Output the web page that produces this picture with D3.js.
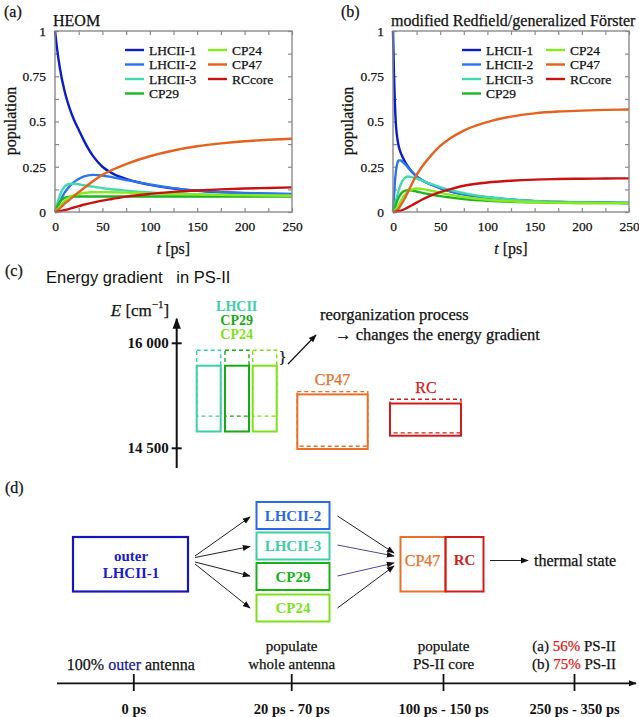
<!DOCTYPE html>
<html><head><meta charset="utf-8">
<script src="https://cdn.jsdelivr.net/npm/d3@7"></script>
<style>body{margin:0;background:#fff}svg{display:block}text{white-space:pre}</style>
</head><body>
<svg id="fig" width="639" height="717"></svg>
<script>
// ---------------- DATA ----------------
const seriesNames = ["LHCII-1","LHCII-2","LHCII-3","CP29","CP24","CP47","RCcore"];
const timeA = [0,2,5,10,15,20,25,30,40,50,60,75,100,125,150,175,200,225,250];
const heomLHCII1 = [1,0.91,0.80,0.67,0.58,0.51,0.455,0.40,0.31,0.25,0.215,0.183,0.15,0.13,0.117,0.109,0.104,0.100,0.098];
const heomLHCII2 = [0,0.02,0.055,0.105,0.14,0.165,0.182,0.195,0.205,0.202,0.193,0.177,0.152,0.132,0.118,0.110,0.105,0.102,0.100];
const heomLHCII3 = [0,0.04,0.09,0.14,0.155,0.156,0.153,0.148,0.14,0.132,0.126,0.118,0.108,0.102,0.097,0.094,0.092,0.091,0.09];
const heomCP29   = [0,0.025,0.055,0.078,0.084,0.086,0.086,0.086,0.086,0.086,0.086,0.086,0.086,0.086,0.086,0.086,0.086,0.086,0.086];
const heomCP24   = [0,0.012,0.03,0.06,0.08,0.093,0.1,0.105,0.109,0.11,0.109,0.107,0.103,0.1,0.097,0.095,0.093,0.091,0.09];
const heomCP47   = [0,0.008,0.02,0.045,0.066,0.088,0.11,0.13,0.17,0.205,0.232,0.265,0.308,0.34,0.363,0.379,0.391,0.399,0.405];
const heomRC     = [0,0.001,0.004,0.01,0.017,0.025,0.032,0.04,0.052,0.063,0.072,0.085,0.1,0.111,0.119,0.125,0.13,0.133,0.136];

const timeB = [0,1,2,3,4,6,8,10,13,16,20,25,30,40,50,60,75,100,125,150,175,200,225,250];
const mrfLHCII1 = [1,0.77,0.6,0.49,0.43,0.365,0.33,0.305,0.275,0.25,0.222,0.197,0.178,0.152,0.132,0.115,0.097,0.08,0.068,0.06,0.055,0.052,0.051,0.05];
const mrfLHCII2 = [0,0.08,0.16,0.22,0.255,0.285,0.285,0.278,0.263,0.245,0.222,0.197,0.178,0.152,0.132,0.115,0.097,0.08,0.068,0.06,0.055,0.052,0.051,0.05];
const mrfLHCII3 = [0,0.015,0.035,0.06,0.08,0.12,0.15,0.172,0.19,0.196,0.193,0.185,0.176,0.155,0.138,0.122,0.104,0.083,0.07,0.061,0.056,0.053,0.051,0.05];
const mrfCP29   = [0,0.01,0.025,0.04,0.055,0.08,0.098,0.11,0.118,0.12,0.118,0.113,0.107,0.097,0.088,0.081,0.072,0.062,0.056,0.053,0.051,0.05,0.05,0.049];
const mrfCP24   = [0,0.003,0.008,0.015,0.022,0.04,0.058,0.075,0.097,0.113,0.124,0.13,0.128,0.118,0.106,0.096,0.083,0.068,0.059,0.054,0.051,0.05,0.049,0.049];
const mrfCP47   = [0,0,0.002,0.005,0.009,0.02,0.035,0.053,0.08,0.112,0.155,0.205,0.245,0.31,0.365,0.405,0.45,0.497,0.527,0.545,0.555,0.56,0.564,0.566];
const mrfRC     = [0,0,0,0.001,0.002,0.004,0.007,0.011,0.018,0.026,0.037,0.052,0.066,0.09,0.11,0.125,0.145,0.163,0.173,0.179,0.182,0.184,0.185,0.186];

const xTicksMajor = [0,50,100,150,200,250];
const yTicksMajor = [0,0.25,0.5,0.75,1];

// Energy levels (panel c)
const levelNames  = ["LHCII","CP29","CP24","CP47","RC"];
const levelLow    = [14740,14740,14740,14490,14680];
const levelHigh   = [15680,15680,15680,15270,15140];
const reorgLow    = [14960,14960,14960,14530,14720];
const reorgHigh   = [15900,15900,15900,15310,15200];
const energyTicks = [14500,16000];

// Timeline (panel d)
const stageTop    = [["100% outer antenna"],["populate","whole antenna"],["populate","PS-II core"],["(a) 56% PS-II","(b) 75% PS-II"]];
const stageTime   = ["0 ps","20 ps - 70 ps","100 ps - 150 ps","250 ps - 350 ps"];

// ---------------- STYLE ----------------
const seriesColors = ["#0a1ec4","#2a74ec","#44d8b0","#1eb41e","#86ea1e","#e2621e","#c81212"];
const SERIF = "'Liberation Serif','DejaVu Serif',serif";
const SANS = "'Liberation Sans','DejaVu Sans',sans-serif";
const svg = d3.select("#fig");
svg.append("rect").attr("width",639).attr("height",717).attr("fill","#fff");

const defs = svg.append("defs");
function marker(id, size, color){
  defs.append("marker").attr("id",id).attr("viewBox","0 0 10 10").attr("refX",9).attr("refY",5)
    .attr("markerWidth",size).attr("markerHeight",size).attr("markerUnits","userSpaceOnUse").attr("orient","auto")
    .append("path").attr("d","M0,1.2 L10,5 L0,8.8 z").attr("fill",color);
}
marker("ah", 8, "#111");
marker("ahBig", 11, "#111");

function thicken(t, col){ return t.attr("stroke",col).attr("stroke-width",0.25); }
function txt(g, x, y, s, opt={}){
  const col = opt.color||"#111";
  const t = g.append("text").attr("x",x).attr("y",y).text(s)
    .attr("font-family",opt.family||SERIF).attr("font-size",opt.size||13)
    .attr("fill",col).attr("text-anchor",opt.anchor||"start")
    .attr("dominant-baseline","central");
  if(opt.weight) t.attr("font-weight",opt.weight);
  if(!opt.thin) thicken(t,col);
  return t;
}

// ---------------- PANELS a/b ----------------
function popPanel(x0, x1, times, vals, title, tag, tagX, ylabX, leg){
  const x = d3.scaleLinear().domain([0,250]).range([x0,x1]);
  const y = d3.scaleLinear().domain([0,1]).range([212,31]);
  const g = svg.append("g");
  const minorX = d3.range(0,251,25), minorY = d3.range(0,1.0001,0.125);
  const tickCol = "#8a8a8a";
  const axes = [
    [d3.axisBottom(x).tickValues(minorX), `translate(0,${y(0)})`],
    [d3.axisTop(x).tickValues(minorX), `translate(0,${y(1)})`],
    [d3.axisLeft(y).tickValues(minorY), `translate(${x0},0)`],
    [d3.axisRight(y).tickValues(minorY), `translate(${x1},0)`]
  ];
  axes.forEach(([ax,tr])=>{
    const a = g.append("g").attr("transform",tr).call(ax.tickSizeInner(-4).tickSizeOuter(0).tickFormat(""));
    a.select(".domain").remove();
    a.selectAll("line").attr("stroke",tickCol).attr("stroke-width",1.2);
  });
  const bx = g.append("g").attr("transform",`translate(0,${y(0)})`)
    .call(d3.axisBottom(x).tickValues(xTicksMajor).tickSize(0).tickPadding(9).tickFormat(d=>String(d)));
  bx.select(".domain").remove();
  bx.selectAll("text").attr("font-family",SERIF).attr("font-size",13.5).attr("fill","#111").attr("stroke","#111").attr("stroke-width",0.25);
  const ly = g.append("g").attr("transform",`translate(${x0},0)`)
    .call(d3.axisLeft(y).tickValues(yTicksMajor).tickSize(0).tickPadding(9).tickFormat(d=>String(d)));
  ly.select(".domain").remove();
  ly.selectAll("text").attr("font-family",SERIF).attr("font-size",13.5).attr("fill","#111").attr("stroke","#111").attr("stroke-width",0.25);
  const line = d3.line().x(d=>x(d[0])).y(d=>y(d[1])).curve(d3.curveMonotoneX);
  vals.forEach((v,i)=>{
    g.append("path").datum(times.map((t,j)=>[t,v[j]])).attr("d",line)
      .attr("fill","none").attr("stroke",seriesColors[i]).attr("stroke-width",2.4)
      .attr("stroke-linejoin","round");
  });
  g.append("rect").attr("x",x0).attr("y",y(1)).attr("width",x1-x0).attr("height",y(0)-y(1))
    .attr("fill","none").attr("stroke",tickCol).attr("stroke-width",1.4);
  const rows=[50,64.5,79,93.5];
  seriesNames.forEach((n,i)=>{
    const col = i<4?0:1, r = i<4?i:i-4;
    const lx = col===0?leg[0]:leg[1];
    g.append("line").attr("x1",lx).attr("x2",lx+19).attr("y1",rows[r]).attr("y2",rows[r])
      .attr("stroke",seriesColors[i]).attr("stroke-width",2.4);
    txt(g, lx+24, rows[r], n, {size:13.5});
  });
  txt(g, x0-2, 20, title, {size:16});
  txt(g, tagX, 11, tag, {size:16});
  const yl = g.append("text").attr("transform",`translate(${ylabX},121) rotate(-90)`)
    .attr("text-anchor","middle").attr("dominant-baseline","central")
    .attr("font-family",SERIF).attr("font-size",16).attr("fill","#111").text("population");
  thicken(yl,"#111");
  const xl = g.append("text").attr("x",(x0+x1)/2).attr("y",248).attr("text-anchor","middle")
    .attr("dominant-baseline","central").attr("font-family",SERIF).attr("font-size",16).attr("fill","#111");
  thicken(xl,"#111");
  xl.append("tspan").attr("font-style","italic").text("t");
  xl.append("tspan").text(" [ps]");
}
popPanel(55,292,timeA,[heomLHCII1,heomLHCII2,heomLHCII3,heomCP29,heomCP24,heomCP47,heomRC],
  "HEOM","(a)",4,10,[125,208]);
popPanel(393,629,timeB,[mrfLHCII1,mrfLHCII2,mrfLHCII3,mrfCP29,mrfCP24,mrfCP47,mrfRC],
  "modified Redfield/generalized Förster","(b)",341,347,[462,546]);

// ---------------- PANEL c ----------------
const gc = svg.append("g");
txt(gc, 5, 270, "(c)", {size:16});
txt(gc, 46, 277, "Energy gradient   in PS-II", {family:SANS, size:16.5, color:"#111", thin:true});
const eY = d3.scaleLinear().domain([14500,16000]).range([448.3,343.3]);
const axX = 176.7;
gc.append("line").attr("x1",axX).attr("x2",axX).attr("y1",468).attr("y2",eY(16350))
  .attr("stroke","#111").attr("stroke-width",2).attr("marker-end","url(#ahBig)");
energyTicks.forEach(e=>{
  gc.append("line").attr("x1",axX-5).attr("x2",axX+5).attr("y1",eY(e)).attr("y2",eY(e))
    .attr("stroke","#111").attr("stroke-width",2);
  txt(gc, axX-8, eY(e), d3.format(",")(e).replace(","," "), {size:15, anchor:"end", weight:"bold", thin:true});
});
const eLab = gc.append("text").attr("x",140).attr("y",310).attr("text-anchor","middle")
  .attr("dominant-baseline","central").attr("font-family",SERIF).attr("font-size",17).attr("fill","#111");
thicken(eLab,"#111");
eLab.append("tspan").attr("font-style","italic").text("E");
eLab.append("tspan").text(" [cm");
eLab.append("tspan").attr("dy",-6).attr("font-size",11).text("−1");
eLab.append("tspan").attr("dy",6).text("]");

const levelX  = [196.7,225,252.7,297.3,390];
const levelW  = [24,24,24,70.4,71];
const levelCol= ["#3ccfa6","#18a818","#7ee01a","#e8702a","#d01c1c"];
levelNames.forEach((n,i)=>{
  gc.append("rect").attr("x",levelX[i]).attr("y",eY(levelHigh[i])).attr("width",levelW[i])
    .attr("height",eY(levelLow[i])-eY(levelHigh[i])).attr("fill","none")
    .attr("stroke",levelCol[i]).attr("stroke-width",2);
  gc.append("rect").attr("x",levelX[i]).attr("y",eY(reorgHigh[i])).attr("width",levelW[i])
    .attr("height",eY(reorgLow[i])-eY(reorgHigh[i])).attr("fill","none")
    .attr("stroke",levelCol[i]).attr("stroke-width",1.4).attr("stroke-dasharray","4,3");
});
txt(gc, 236.7, 306, "LHCII", {size:14, anchor:"middle", color:levelCol[0], weight:"bold", thin:true});
txt(gc, 236.7, 320.5, "CP29", {size:14, anchor:"middle", color:levelCol[1], weight:"bold", thin:true});
txt(gc, 236.7, 334.5, "CP24", {size:14, anchor:"middle", color:levelCol[2], weight:"bold", thin:true});
txt(gc, 332.5, 379, "CP47", {size:16, anchor:"middle", color:levelCol[3]});
txt(gc, 426, 387, "RC", {size:16, anchor:"middle", color:levelCol[4]});
txt(gc, 282.5, 357, "}", {size:17, anchor:"middle"});
gc.append("line").attr("x1",288).attr("y1",364).attr("x2",316).attr("y2",335)
  .attr("stroke","#111").attr("stroke-width",1.2).attr("marker-end","url(#ah)");
txt(gc, 320, 314.5, "reorganization process", {size:16.5});
txt(gc, 335, 334, "→ changes the energy gradient", {size:16.5});

// ---------------- PANEL d ----------------
const gd = svg.append("g");
txt(gd, 5, 487, "(d)", {size:16});
function box(x,y,w,h,col,sw){
  gd.append("rect").attr("x",x).attr("y",y).attr("width",w).attr("height",h)
    .attr("fill","none").attr("stroke",col).attr("stroke-width",sw||2);
}
const dBlue="#1616b8", dBlue2="#2a6ae8";
box(73,537,115,54.5,dBlue,2.2);
txt(gd,131,555.5,"outer",{size:15,anchor:"middle",color:"#1a1ad0",weight:"bold",thin:true});
txt(gd,131,573,"LHCII-1",{size:15,anchor:"middle",color:"#1a1ad0",weight:"bold",thin:true});
const midNames=["LHCII-2","LHCII-3","CP29","CP24"];
const midCol=[dBlue2,"#3ccfa6","#18b018","#7ee01a"];
const midY=[502,532.5,563,594.5];
midNames.forEach((n,i)=>{
  box(256.5,midY[i],73,27,midCol[i],2);
  txt(gd,293,midY[i]+13.8,n,{size:15,anchor:"middle",color:midCol[i],weight:"bold",thin:true});
});
box(400.5,537,45,54.5,"#e8702a",2);
box(445.5,537,38,54.5,"#d01c1c",2);
txt(gd,422.5,560,"CP47",{size:16,anchor:"middle",color:"#e8702a"});
txt(gd,464.5,560,"RC",{size:15,anchor:"middle",color:"#d01c1c",weight:"bold",thin:true});
function arrow(x1,y1,x2,y2,col){
  gd.append("line").attr("x1",x1).attr("y1",y1).attr("x2",x2).attr("y2",y2)
    .attr("stroke",col||"#222").attr("stroke-width",1).attr("marker-end","url(#ah)");
}
arrow(195,556,250,517); arrow(195,557.5,250,546.5); arrow(195,562,250,576); arrow(195,564,250,608);
arrow(337.5,516,394,553); arrow(337.5,545,394,556,"#4a4a9a"); arrow(337.5,576,394,563,"#4a4a9a"); arrow(337.5,608,394,566);
arrow(490,560.5,528,560.5);
txt(gd,534,560.5,"thermal state",{size:16});

// timeline
const stageX=[133.8,291.7,443.5,574.5];
gd.append("line").attr("x1",57).attr("x2",636).attr("y1",683.3).attr("y2",683.3)
  .attr("stroke","#111").attr("stroke-width",1.8).attr("marker-end","url(#ah)");
stageX.forEach((sx,i)=>{
  gd.append("line").attr("x1",sx).attr("x2",sx).attr("y1",674).attr("y2",691)
    .attr("stroke","#111").attr("stroke-width",1.8);
  txt(gd,sx,709,stageTime[i],{size:14.5,anchor:"middle",weight:"bold",thin:true});
});
txt(gd,stageX[1],646,stageTop[1][0],{size:15,anchor:"middle"});
txt(gd,stageX[1],663.5,stageTop[1][1],{size:15,anchor:"middle"});
txt(gd,stageX[2],646,stageTop[2][0],{size:15,anchor:"middle"});
txt(gd,stageX[2],663.5,stageTop[2][1],{size:15,anchor:"middle"});
const t0 = gd.append("text").attr("x",stageX[0]-3).attr("y",663.5).attr("text-anchor","middle")
  .attr("dominant-baseline","central").attr("font-family",SERIF).attr("font-size",16).attr("fill","#111");
thicken(t0,"#111");
t0.append("tspan").text("100% ");
t0.append("tspan").attr("fill","#1a1a90").attr("stroke","#1a1a90").text("outer");
t0.append("tspan").text(" antenna");
[["(a) ","56%"," PS-II",646],["(b) ","75%"," PS-II",663.5]].forEach(r=>{
  const t = gd.append("text").attr("x",574).attr("y",r[3]).attr("text-anchor","middle")
    .attr("dominant-baseline","central").attr("font-family",SERIF).attr("font-size",15).attr("fill","#111");
  thicken(t,"#111");
  t.append("tspan").text(r[0]);
  t.append("tspan").attr("fill","#e01818").attr("stroke","#e01818").text(r[1]);
  t.append("tspan").text(r[2]);
});
</script>
</body></html>
